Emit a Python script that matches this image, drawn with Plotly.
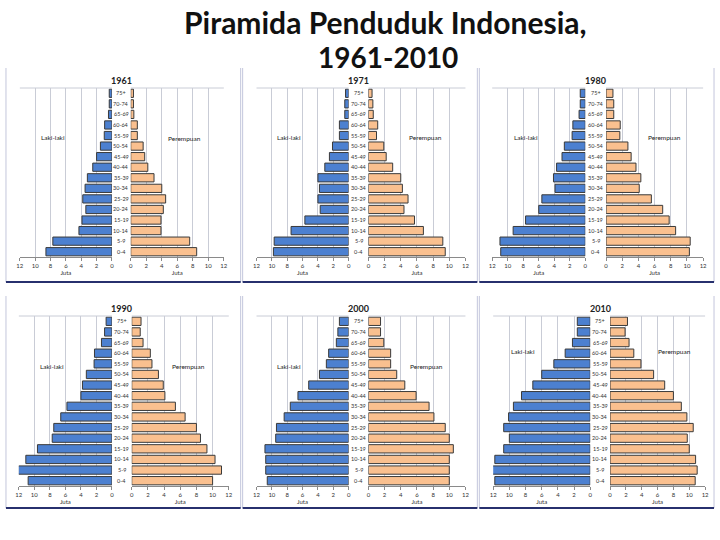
import plotly.graph_objects as go

W, H = 720, 540

age_groups = ["0-4", "5-9", "10-14", "15-19", "20-24", "25-29", "30-34", "35-39",
              "40-44", "45-49", "50-54", "55-59", "60-64", "65-69", "70-74", "75+"]
years = ["1961", "1971", "1980", "1990", "2000", "2010"]

male_1961 = [8.6, 7.7, 4.3, 3.9, 3.4, 3.8, 3.5, 3.2, 2.5, 2.0, 1.5, 1.0, 0.95, 0.45, 0.35, 0.35]
female_1961 = [8.5, 7.6, 3.9, 3.9, 4.2, 4.5, 4.0, 3.0, 2.2, 1.8, 1.6, 0.85, 0.85, 0.4, 0.35, 0.35]
male_1971 = [9.8, 9.7, 7.5, 5.7, 3.7, 4.0, 3.8, 4.0, 3.1, 2.5, 2.1, 1.2, 1.2, 0.5, 0.5, 0.4]
female_1971 = [9.5, 9.2, 6.8, 5.7, 4.4, 4.9, 4.2, 4.0, 3.0, 2.2, 1.9, 1.0, 1.15, 0.6, 0.55, 0.45]
male_1980 = [10.9, 11.0, 9.3, 7.7, 6.0, 5.6, 3.9, 4.1, 3.7, 3.0, 2.7, 1.7, 1.6, 0.8, 0.65, 0.65]
female_1980 = [10.3, 10.4, 8.6, 7.8, 7.0, 5.6, 4.1, 4.3, 3.7, 3.1, 2.7, 1.7, 1.75, 0.95, 0.95, 0.85]
male_1990 = [10.8, 12.1, 11.1, 9.6, 7.7, 7.5, 6.6, 5.8, 4.0, 3.8, 3.3, 2.3, 2.25, 1.35, 0.95, 0.75]
female_1990 = [10.0, 11.1, 10.3, 9.3, 8.5, 8.0, 6.6, 5.4, 4.1, 3.9, 3.3, 2.5, 2.3, 1.4, 1.05, 1.15]
male_2000 = [10.6, 10.8, 10.8, 10.9, 9.5, 9.4, 8.4, 7.6, 6.6, 5.2, 3.8, 2.9, 2.6, 1.6, 1.4, 1.2]
female_2000 = [10.0, 10.0, 10.0, 10.5, 10.0, 9.5, 8.1, 7.5, 5.9, 4.5, 3.5, 2.75, 2.75, 1.9, 1.5, 1.5]
male_2010 = [11.8, 12.2, 11.8, 10.7, 10.0, 10.7, 10.1, 9.5, 8.5, 7.1, 6.0, 4.5, 3.1, 2.2, 1.6, 1.6]
female_2010 = [10.75, 11.0, 10.8, 10.0, 9.75, 10.5, 9.7, 9.0, 8.0, 6.9, 5.5, 3.9, 3.0, 2.4, 1.9, 2.2]

male_data = [male_1961, male_1971, male_1980, male_1990, male_2000, male_2010]
female_data = [female_1961, female_1971, female_1980, female_1990, female_2000, female_2010]

tick_vals = [0, 2, 4, 6, 8, 10, 12]
label_male = "Laki-laki"
label_female = "Perempuan"
unit_label = "Juta"
title_lines = ["Piramida Penduduk Indonesia,", "1961-2010"]

# layout geometry in pixels: (left x0, x1), (right x0, x1), (y top, y bottom), label positions
panels = [
    ((17, 110), (129, 223), (88, 257), (50, 137), (183, 138)),
    ((256, 349), (369, 467), (88, 257), (289, 137), (427, 137)),
    ((494, 588), (609, 707), (88, 257), (528, 137), (668, 137)),
    ((16, 110), (130, 228), (316, 486), (49, 366), (187, 366)),
    ((256, 349), (369, 467), (316, 486), (289, 366), (428, 366)),
    ((495, 593), (613, 709), (316, 486), (525, 351), (678, 351)),
]
frames = [
    (3, 240, 68, 282), (242, 479, 68, 282), (481, 718, 68, 282),
    (3, 240, 296, 508), (242, 479, 296, 508), (481, 718, 296, 508),
]

BLUE = "#4c80d0"
ORANGE = "#fac08f"
EDGE = "#3a3a3a"
GRID = "#c9ccd6"
FONT = "Lato"

fig = go.Figure()
layout = dict(
    width=W, height=H, margin=dict(l=0, r=0, t=0, b=0),
    paper_bgcolor="white", plot_bgcolor="white",
    showlegend=False, barmode="overlay", bargap=0.22,
    font=dict(family=FONT, color="#222"),
)
annotations = []
shapes = []


def px(x):
    return x / W


def py(y):
    return 1 - y / H


for i, (lx, rx, yy, lpos, rpos) in enumerate(panels):
    xl = 2 * i + 1
    xr = 2 * i + 2
    yl = 2 * i + 1
    yr = 2 * i + 2
    xl_name = "xaxis" if xl == 1 else f"xaxis{xl}"
    xr_name = f"xaxis{xr}"
    yl_name = "yaxis" if yl == 1 else f"yaxis{yl}"
    yr_name = f"yaxis{yr}"
    xl_ref = "x" if xl == 1 else f"x{xl}"
    yl_ref = "y" if yl == 1 else f"y{yl}"

    fig.add_trace(go.Bar(
        x=male_data[i], y=age_groups, orientation="h",
        marker=dict(color=BLUE, line=dict(color=EDGE, width=1)),
        xaxis=xl_ref, yaxis=yl_ref, hoverinfo="skip"))
    fig.add_trace(go.Bar(
        x=female_data[i], y=age_groups, orientation="h",
        marker=dict(color=ORANGE, line=dict(color=EDGE, width=1)),
        xaxis=f"x{xr}", yaxis=f"y{yr}", hoverinfo="skip"))

    common_x = dict(
        range=[0, 12], tickvals=tick_vals, showgrid=True, gridcolor=GRID, gridwidth=1,
        zeroline=False, showline=True, linecolor="#8a8a8a", linewidth=1,
        ticks="outside", ticklen=3, tickcolor="#8a8a8a",
        tickfont=dict(size=6, family=FONT, color="#333"),
        title=dict(text=unit_label, font=dict(size=6, family=FONT, color="#333"), standoff=2),
        fixedrange=True,
    )
    layout[xl_name] = dict(common_x, domain=[px(lx[0]), px(lx[1])], anchor=yl_ref,
                           range=[12, 0])
    layout[xr_name] = dict(common_x, domain=[px(rx[0]), px(rx[1])], anchor=f"y{yr}")
    common_y = dict(
        domain=[py(yy[1]), py(yy[0])], type="category", categoryorder="array",
        categoryarray=age_groups, showticklabels=False, showgrid=False,
        zeroline=False, showline=False, ticks="", fixedrange=True,
    )
    layout[yl_name] = dict(common_y, anchor=xl_ref)
    layout[yr_name] = dict(common_y, anchor=f"x{xr}")

    # plot-area top frame lines
    shapes.append(dict(type="line", xref="paper", yref="paper",
                       x0=px(lx[0]), x1=px(lx[1]), y0=py(yy[0]), y1=py(yy[0]),
                       line=dict(color=GRID, width=1)))
    shapes.append(dict(type="line", xref="paper", yref="paper",
                       x0=px(rx[0]), x1=px(rx[1]), y0=py(yy[0]), y1=py(yy[0]),
                       line=dict(color=GRID, width=1)))

    cx = (lx[1] + rx[0]) / 2
    for ag in age_groups:
        annotations.append(dict(x=px(cx), xref="paper", y=ag, yref=yl_ref,
                                text=ag, showarrow=False, xanchor="center",
                                yanchor="middle",
                                font=dict(size=5.5, family=FONT, color="#333")))
    annotations.append(dict(x=px(cx), y=py(yy[0] - 8), xref="paper", yref="paper",
                            text="<b>" + years[i] + "</b>", showarrow=False,
                            xanchor="center", yanchor="middle",
                            font=dict(size=9, family=FONT, color="#222")))
    annotations.append(dict(x=px(lpos[0]), y=py(lpos[1]), xref="paper", yref="paper",
                            text=label_male, showarrow=False,
                            xanchor="center", yanchor="middle",
                            font=dict(size=6.5, family=FONT, color="#222")))
    annotations.append(dict(x=px(rpos[0]), y=py(rpos[1]), xref="paper", yref="paper",
                            text=label_female, showarrow=False,
                            xanchor="center", yanchor="middle",
                            font=dict(size=6.5, family=FONT, color="#222")))

for (x0, x1, y0, y1) in frames:
    shapes.append(dict(type="line", xref="paper", yref="paper",
                       x0=px(x0), x1=px(x0), y0=py(y0), y1=py(y1),
                       line=dict(color="#c3c6dc", width=1)))
    shapes.append(dict(type="line", xref="paper", yref="paper",
                       x0=px(x1), x1=px(x1), y0=py(y0), y1=py(y1),
                       line=dict(color="#c3c6dc", width=1)))
    shapes.append(dict(type="line", xref="paper", yref="paper",
                       x0=px(x0), x1=px(x1), y0=py(y1), y1=py(y1),
                       line=dict(color="#27306e", width=2)))

annotations.append(dict(x=px(386), y=py(22), xref="paper", yref="paper",
                        text="<b>" + title_lines[0] + "</b>", showarrow=False,
                        xanchor="center", yanchor="middle",
                        font=dict(size=30, family=FONT, color="#111")))
annotations.append(dict(x=px(389), y=py(57), xref="paper", yref="paper",
                        text="<b>" + title_lines[1] + "</b>", showarrow=False,
                        xanchor="center", yanchor="middle",
                        font=dict(size=28, family=FONT, color="#111")))

layout["annotations"] = annotations
layout["shapes"] = shapes
fig.update_layout(**layout)

fig.write_html("out.html", config={"displayModeBar": False},
               post_script="document.body.style.margin='0';document.body.style.overflow='hidden';")
